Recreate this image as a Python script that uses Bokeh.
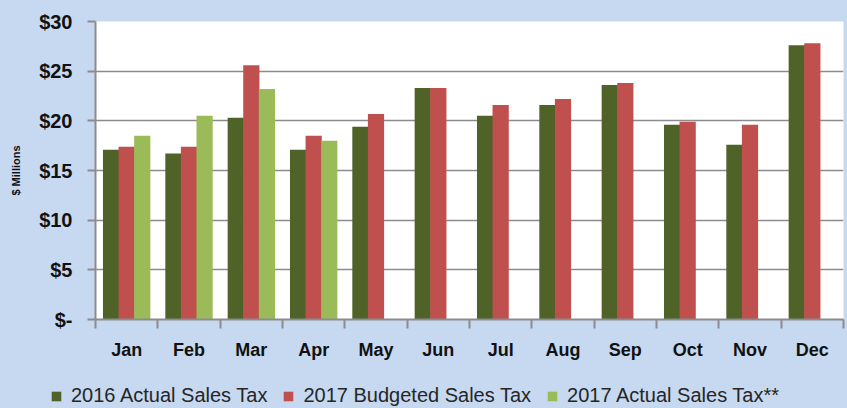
from bokeh.plotting import figure
from bokeh.layouts import column
from bokeh.models import ColumnDataSource, Legend, LegendItem, FixedTicker, Range1d
from bokeh.embed import file_html
from bokeh.resources import INLINE

months = ["Jan", "Feb", "Mar", "Apr", "May", "Jun", "Jul", "Aug", "Sep", "Oct", "Nov", "Dec"]
actual_2016 = [17.1, 16.7, 20.3, 17.1, 19.4, 23.3, 20.5, 21.6, 23.6, 19.6, 17.6, 27.6]
budget_2017 = [17.4, 17.4, 25.6, 18.5, 20.7, 23.3, 21.6, 22.2, 23.8, 19.9, 19.6, 27.8]
actual_2017 = [18.5, 20.5, 23.2, 18.0]
y_ticks = [0, 5, 10, 15, 20, 25, 30]
y_tick_labels = ["$-", "$5", "$10", "$15", "$20", "$25", "$30"]
series_names = ["2016 Actual Sales Tax", "2017 Budgeted Sales Tax", "2017 Actual Sales Tax**"]
series_colors = ["#4F6228", "#C0504D", "#9BBB59"]

BG = "#C6D9F0"
GRID = "#8C8C8C"
FONT = "Liberation Sans"

p = figure(width=847, height=378, output_backend="svg", toolbar_location=None,
           x_range=Range1d(0, 12), y_range=Range1d(0, 30),
           min_border_left=95, min_border_right=4, min_border_top=21, min_border_bottom=59)
p.border_fill_color = BG
p.background_fill_color = "white"
p.outline_line_color = None

bar_w = 0.26
offsets = [-0.25, 0.0, 0.25]
all_series = [actual_2016, budget_2017, actual_2017]
for vals, off, col in zip(all_series, offsets, series_colors):
    xs = [i + 0.5 + off for i in range(len(vals))]
    src = ColumnDataSource(dict(x=xs, top=vals))
    p.vbar(x="x", top="top", width=bar_w, bottom=0, source=src,
           fill_color=col, line_color=None)

# x axis: labels at month centres, tick marks at month boundaries
centers = [i + 0.5 for i in range(len(months))]
p.xaxis.ticker = FixedTicker(ticks=centers, minor_ticks=list(range(len(months) + 1)))
p.xaxis.major_label_overrides = {c: m for c, m in zip(centers, months)}
p.xaxis.major_tick_line_color = None
p.xaxis.major_tick_out = 9
p.xaxis.major_tick_in = 0
p.xaxis.minor_tick_line_color = GRID
p.xaxis.minor_tick_line_width = 2
p.xaxis.minor_tick_out = 9
p.xaxis.minor_tick_in = 0
p.xaxis.axis_line_color = GRID
p.xaxis.axis_line_width = 2
p.xaxis.major_label_text_font = FONT
p.xaxis.major_label_text_font_style = "bold"
p.xaxis.major_label_text_font_size = "18px"
p.xaxis.major_label_text_color = "#111111"
p.xaxis.major_label_standoff = 11

# y axis
p.yaxis.ticker = FixedTicker(ticks=y_ticks, minor_ticks=[])
p.yaxis.major_label_overrides = {t: l for t, l in zip(y_ticks, y_tick_labels)}
p.yaxis.major_tick_line_color = GRID
p.yaxis.major_tick_line_width = 2
p.yaxis.major_tick_out = 8
p.yaxis.major_tick_in = 0
p.yaxis.minor_tick_line_color = None
p.yaxis.axis_line_color = GRID
p.yaxis.axis_line_width = 2
p.yaxis.major_label_text_font = FONT
p.yaxis.major_label_text_font_style = "bold"
p.yaxis.major_label_text_font_size = "20px"
p.yaxis.major_label_text_color = "#111111"
p.yaxis.major_label_standoff = 15
p.yaxis.axis_label = "$ Millions"
p.yaxis.axis_label_text_font = FONT
p.yaxis.axis_label_text_font_size = "11px"
p.yaxis.axis_label_text_font_style = "bold"
p.yaxis.axis_label_text_color = "#111111"
p.yaxis.axis_label_standoff = 14

p.xgrid.grid_line_color = None
p.ygrid.grid_line_color = GRID
p.ygrid.grid_line_width = 1.5

# legend strip below the chart (its own frame spans the full width)
lg = figure(width=847, height=30, output_backend="svg", toolbar_location=None,
            x_range=Range1d(0, 1), y_range=Range1d(0, 1),
            x_axis_location=None, y_axis_location=None, min_border=0)
try:
    lg.frame_align = False
except Exception:
    pass
lg.border_fill_color = BG
lg.background_fill_color = BG
lg.outline_line_color = None
lg.grid.visible = False
nan = float("nan")
items = []
for name, col in zip(series_names, series_colors):
    r = lg.vbar(x=[nan], top=[nan], width=0.1, fill_color=col, line_color=None)
    items.append(LegendItem(label=name, renderers=[r]))
legend = Legend(items=items, orientation="horizontal", location=(50, 1),
                background_fill_alpha=0, border_line_color=None,
                glyph_width=12, glyph_height=12, label_height=20,
                label_text_font=FONT, label_text_font_size="20px",
                label_text_color="#262626", label_text_baseline="middle",
                spacing=15, label_standoff=9, padding=0, margin=0)
lg.add_layout(legend)

layout = column(p, lg, spacing=0)
layout.styles = {"background-color": BG}
open("out.html", "w").write(file_html(layout, INLINE))
